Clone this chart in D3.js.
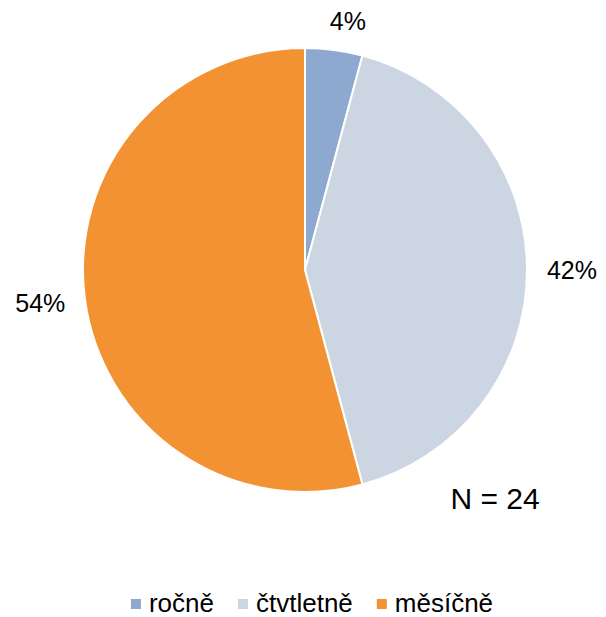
<!DOCTYPE html>
<html>
<head>
<meta charset="utf-8">
<script src="https://cdn.jsdelivr.net/npm/d3@7"></script>
<style>
  body { margin: 0; background: #fff; }
  svg text { font-family: "Liberation Sans", Arial, sans-serif; fill: #000; }
</style>
</head>
<body>
<svg width="606" height="617"></svg>
<script>
const categories = ['ročně', 'čtvtletně', 'měsíčně']
const counts = [1, 10, 13]
const colors = ['#8EA9CF', '#CCD6E3', '#F39232']
const total = 24

const svg = d3.select('svg')
const cx = 305, cy = 270, r = 222

const pie = d3.pie().sort(null).value(d => d)
const arcs = pie(counts)

const arc = d3.arc().innerRadius(0).outerRadius(r)

const g = svg.append('g').attr('transform', `translate(${cx},${cy})`)

g.selectAll('path')
  .data(arcs)
  .enter().append('path')
  .attr('d', arc)
  .attr('fill', (d, i) => colors[i])
  .attr('stroke', '#fff')
  .attr('stroke-width', 2)

// labels outside the pie, box nudged away from the edge
const fmt = d3.format('.0%')
const gap = 20
const labelArc = d3.arc().innerRadius(r + gap).outerRadius(r + gap)
const lw = 50, lh = 18

g.selectAll('text.pct')
  .data(arcs)
  .enter().append('text')
  .attr('class', 'pct')
  .attr('text-anchor', 'middle')
  .style('font-size', '25px')
  .attr('x', d => {
    const a = (d.startAngle + d.endAngle) / 2
    return labelArc.centroid(d)[0] + Math.sin(a) * lw / 2 + (d.index == 0 ? 8 : 0)
  })
  .attr('y', d => {
    const a = (d.startAngle + d.endAngle) / 2
    return labelArc.centroid(d)[1] - Math.cos(a) * lh / 2 + 9
  })
  .text(d => fmt(d.value / total))

svg.append('text')
  .attr('x', 495)
  .attr('y', 509)
  .attr('text-anchor', 'middle')
  .style('font-size', '30px')
  .text(`N = ${total}`)

// legend
const legend = svg.append('g')
let lx = 0
const items = legend.selectAll('g')
  .data(categories)
  .enter().append('g')
items.append('rect')
  .attr('y', -5)
  .attr('width', 10)
  .attr('height', 10)
  .attr('fill', (d, i) => colors[i])
items.append('text')
  .attr('x', 18)
  .attr('y', 8)
  .style('font-size', '26px')
  .text(d => d)
items.each(function() {
  d3.select(this).attr('transform', `translate(${lx},0)`)
  lx += this.getBBox().width + 24
})
lx -= 24
legend.attr('transform', `translate(${312 - lx / 2},604)`)
</script>
</body>
</html>
